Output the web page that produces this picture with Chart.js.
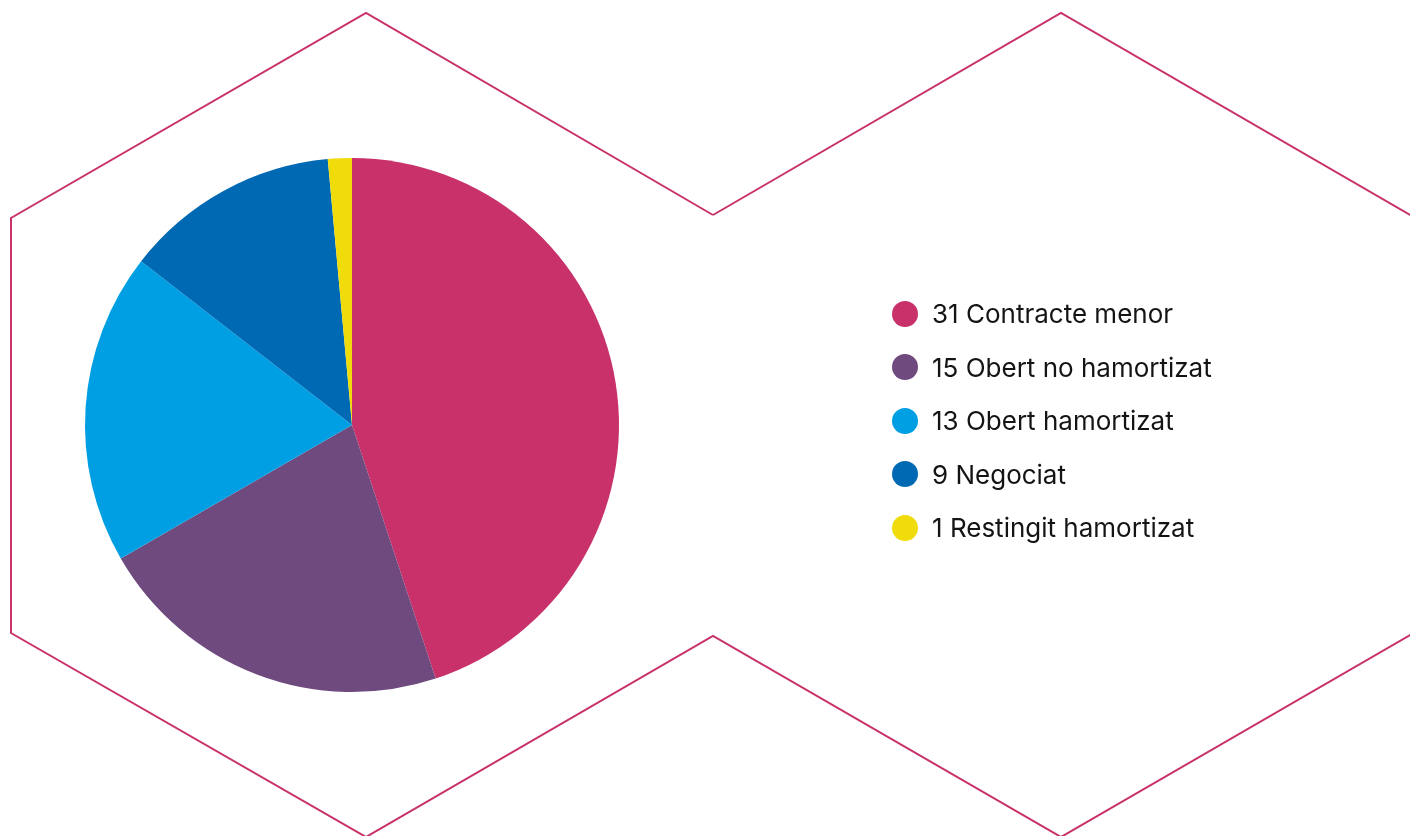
<!DOCTYPE html>
<html>
<head>
<meta charset="utf-8">
<script src="https://cdn.jsdelivr.net/npm/chart.js@4"></script>
<style>
  html, body { margin: 0; padding: 0; background: #fff; }
  #wrap { position: relative; width: 1410px; height: 836px; overflow: hidden; }
  #myChart { position: absolute; left: 0; top: 0; }
  #legend { position: absolute; left: 892px; top: 287px; font-family: Inter, "Noto Sans", sans-serif; font-size: 26px; color: #141414; }
  #legend .row { display: flex; align-items: center; height: 53.5px; }
  #legend .dot { width: 26px; height: 26px; border-radius: 50%; margin-right: 14px; flex: none; }
</style>
</head>
<body>
<div id="wrap">
  <canvas id="myChart" width="1410" height="836"></canvas>
  <div id="legend"></div>
</div>
<script>
const labels = ['Contracte menor', 'Obert no hamortizat', 'Obert hamortizat', 'Negociat', 'Restingit hamortizat'];
const counts = [31, 15, 13, 9, 1];
const sliceColors = ['#c8316a', '#6e4a7e', '#009fe3', '#0069b4', '#f0dc0a'];

// hexagon outline drawn behind the pie
const hexLines = {
  id: 'hexLines',
  beforeDraw(chart) {
    const ctx = chart.ctx;
    ctx.save();
    ctx.strokeStyle = '#c8316a';
    ctx.lineWidth = 2;
    ctx.beginPath();
    ctx.moveTo(713, 215);
    ctx.lineTo(366, 13);
    ctx.lineTo(11, 218);
    ctx.lineTo(11, 633);
    ctx.lineTo(366, 837);
    ctx.lineTo(713, 636);
    ctx.lineTo(1061, 837);
    ctx.lineTo(1412, 634);
    ctx.moveTo(713, 215);
    ctx.lineTo(1061, 13);
    ctx.lineTo(1412, 216);
    ctx.stroke();
    ctx.restore();
  }
};

new Chart('myChart', {
  type: 'pie',
  data: {
    labels: labels,
    datasets: [{
      data: counts,
      backgroundColor: sliceColors,
      borderWidth: 0
    }]
  },
  options: {
    responsive: false,
    animation: false,
    layout: { padding: { left: 85, top: 158, bottom: 144, right: 791 } },
    plugins: {
      legend: { display: false },
      tooltip: { enabled: false }
    }
  },
  plugins: [hexLines]
});

// legend as text on the right
const legend = document.getElementById('legend');
labels.forEach(function (name, i) {
  const row = document.createElement('div');
  row.className = 'row';
  const dot = document.createElement('span');
  dot.className = 'dot';
  dot.style.background = sliceColors[i];
  const txt = document.createElement('span');
  txt.textContent = counts[i] + ' ' + name;
  row.appendChild(dot);
  row.appendChild(txt);
  legend.appendChild(row);
});
</script>
</body>
</html>
